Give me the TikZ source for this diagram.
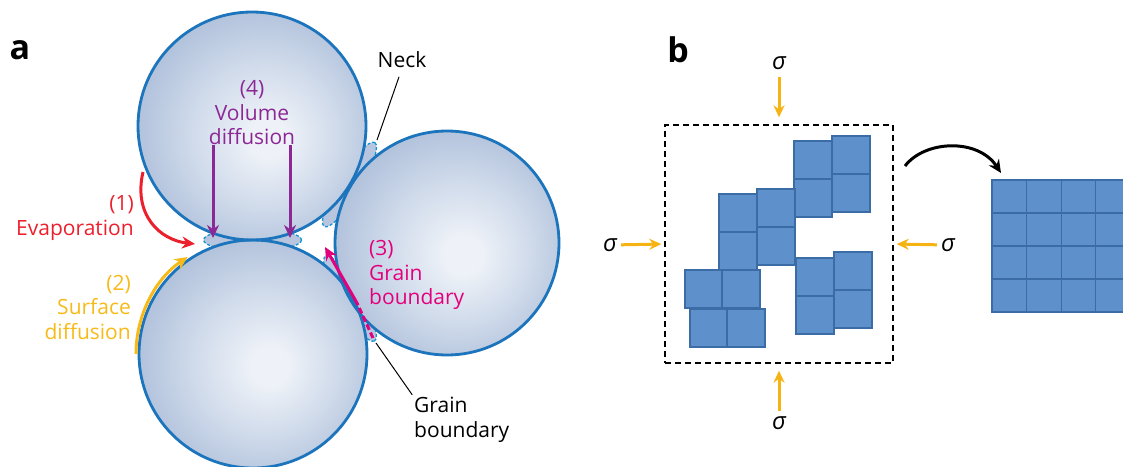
\documentclass[tikz,border=0pt]{standalone}
\usepackage{fontspec}
\setmainfont{Open Sans}
\usetikzlibrary{arrows.meta,positioning,calc}

\definecolor{rim}{RGB}{28,117,188}
\definecolor{ballhi}{RGB}{238,242,248}
\definecolor{ballmid}{RGB}{202,214,232}
\definecolor{balllo}{RGB}{170,188,216}
\definecolor{neckdash}{RGB}{20,150,210}
\definecolor{evap}{RGB}{236,32,44}
\definecolor{surf}{RGB}{247,186,24}
\definecolor{gbpink}{RGB}{228,0,124}
\definecolor{volpurp}{RGB}{140,40,150}
\definecolor{stress}{RGB}{246,180,20}
\definecolor{cellblue}{RGB}{94,144,203}
\definecolor{celledge}{RGB}{60,108,166}

\pgfdeclareradialshading{grainball}{\pgfpoint{4bp}{-3bp}}{%
  color(0bp)=(ballhi); color(4bp)=(ballhi); color(18bp)=(ballmid);
  color(30bp)=(balllo); color(50bp)=(balllo)}

\tikzset{
  lbl/.style={font=\fontsize{21}{24.5}\selectfont, inner sep=0pt},
  panel/.style={font=\fontsize{34}{34}\selectfont\bfseries, inner sep=0pt},
  sig/.style={font=\fontsize{24}{24}\selectfont\itshape, inner sep=2pt},
  rim/.style={draw=rim, line width=2.8pt},
  neck/.style={fill=balllo!85!white, draw=neckdash, line width=1.3pt, dash pattern=on 3pt off 2pt},
  flux/.style={line width=3pt, -{Stealth[length=13pt,width=12pt]}},
  press/.style={stress, line width=3pt, -{Stealth[length=12pt,width=11pt]}},
  pointer/.style={line width=1pt},
  stressbox/.style={draw, line width=1.4pt, dash pattern=on 6pt off 4pt,
    minimum width=228, minimum height=238},
  cell/.style={fill=cellblue, draw=celledge, line width=1.1pt},
  movearrow/.style={line width=3pt, -{Stealth[length=13pt,width=12pt]}}
}

\begin{document}
\begin{tikzpicture}[x=1pt,y=-1pt]
\useasboundingbox (0,0) rectangle (1123,466);

% --- a: three grains ---
\coordinate (T) at (252,126);
\coordinate (B) at (253,354);
\coordinate (R) at (447,243);
\coordinate (nTB) at ($(T)!0.5!(B)$);
\coordinate (nTR) at ($(T)!0.5!(R)$);
\coordinate (nBR) at ($(B)!0.5!(R)$);

% necks go behind the grains
\path[neck] (nTB) ellipse[x radius=49, y radius=11];
\path[neck, rotate around={59:(nTR)}] (nTR) ellipse[x radius=49, y radius=11];
\path[neck, rotate around={-60:(nBR)}] (nBR) ellipse[x radius=49, y radius=11];

\foreach \g/\r in {B/114,T/114,R/112}
  \shade[shading=grainball] (\g) circle[radius=\r];
\foreach \g/\r in {B/114,T/114,R/112}
  \draw[rim] (\g) circle[radius=\r];

\node[panel] (pa) at (20,50) {a};
\node[lbl] (neck) at (402,60) {Neck};
\node[lbl, text=volpurp, align=center] (vol) at (252,113) {(4)\\Volume\\diffusion};
\node[lbl, text=evap, align=right, anchor=east] (evp) at (134,218) {(1)\\Evaporation};
\node[lbl, text=surf, align=right, anchor=east] (srf) at (131,307) {(2)\\Surface\\diffusion};
\node[lbl, text=gbpink, align=left, anchor=west] (gbl) at (369,275) {(3)\\Grain\\boundary};
\node[lbl, align=left, anchor=west] (gbt) at (414,420) {Grain\\boundary};

% transport paths
\coordinate (evS) at (143,172);
\coordinate (evE) at (195,244);
\draw[flux, evap] (evS) .. controls (133,215) and (160,240) .. (evE);
\draw[flux, surf] ([shift={(180:117)}]B) arc[start angle=180, end angle=236, radius=117];
\coordinate (vL) at (213,238);
\coordinate (vR) at (290,238);
\draw[flux, volpurp] (vol.south -| vL) -- (vL);
\draw[flux, volpurp] (vol.south -| vR) -- (vR);
\coordinate (gbA) at (325,247);
\coordinate (gbM) at (357,303);
\coordinate (gbZ) at (373,338);
\draw[flux, gbpink] (gbM) -- (gbA);
\draw[gbpink, line width=3pt, dash pattern=on 6pt off 3pt] (gbZ) -- (gbM);

% leader lines
\coordinate (neckTip) at (377,140);
\coordinate (gbTip) at (376,343);
\draw[pointer, shorten <=9pt] (neck.south) -- (neckTip);
\draw[pointer, shorten >=3pt] (gbTip) -- (gbt.north west);

% --- b: pressure-assisted packing ---
\node[panel] (pb) at (678,50) {b};
\node[stressbox] (box) at (779,244) {};
\node[sig] (sigT) at (779,63) {σ};
\node[sig] (sigB) at (779,423) {σ};
\node[sig] (sigL) at (610,245) {σ};
\node[sig] (sigR) at (948,245) {σ};
\draw[press, shorten <=5pt, shorten >=7pt] (sigT) -- (box.north);
\draw[press, shorten <=3pt, shorten >=7pt] (sigB) -- (box.south);
\draw[press, shorten <=2pt, shorten >=3pt] (sigL) -- (box.west);
\draw[press, shorten <=2pt, shorten >=3pt] (sigR) -- (box.east);

\foreach \x/\y in {794/141, 794/179, 832/136, 832/174, 757/189, 757/227,
                   719/194, 719/232, 685/270, 722/270, 690/309, 727/309,
                   796/258, 796/296, 834/252, 834/290}
  \draw[cell] (\x,\y) rectangle ++(38,38);

\coordinate (mvS) at (905,166);
\coordinate (mvE) at (1001,173);
\draw[movearrow] (mvS) .. controls (925,140) and (978,138) .. (mvE);

\foreach \i in {0,...,3}
  \foreach \j in {0,...,3}
    \draw[cell] ({992+34.6*\i},{180+33*\j}) rectangle ++(34.6,33);
\end{tikzpicture}
\end{document}
